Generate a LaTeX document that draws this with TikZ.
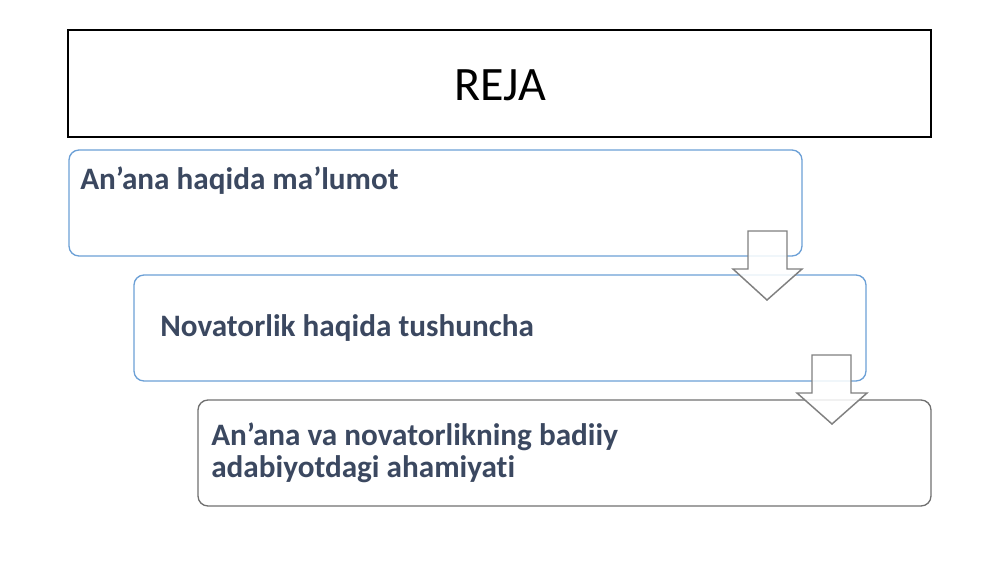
\documentclass[tikz,border=0pt]{standalone}
\usepackage{fontspec}
\setmainfont{Carlito}[Ligatures=NoCommon]
\usepackage{tikz}

\definecolor{planblue}{RGB}{108,160,214}
\definecolor{plangrey}{RGB}{112,112,112}
\definecolor{arrowgrey}{RGB}{128,128,128}
\definecolor{plantext}{RGB}{59,72,96}

\tikzset{
  planbox/.style={line width=1pt, rounded corners=7.5pt},
  downarrow/.style={draw=arrowgrey, line width=1.1pt, fill=white, fill opacity=0.85, line join=miter},
  plantitle/.style={anchor=base west, inner sep=0pt, text=plantext, font=\bfseries\fontsize{23.4}{28}\selectfont}
}

\begin{document}
\begin{tikzpicture}[x=0.75pt,y=0.75pt,yscale=-1,xscale=1]
\useasboundingbox (0,0) rectangle (1000,562);

%Shape: Rectangle [title]
\draw [line width=0.8pt]  (68,30) rectangle (931,137) ;
%Shape: Rounded Rectangle [first]
\draw [planbox, draw=planblue]  (69,150) rectangle (802,256) ;
%Shape: Rounded Rectangle [second]
\draw [planbox, draw=planblue]  (134,275) rectangle (866,381) ;
%Shape: Down Arrow [first]
\draw [downarrow]  (748,231) -- (787,231) -- (787,269) -- (802,269) -- (767,300) -- (733,269) -- (748,269) -- cycle ;
%Shape: Rounded Rectangle [third]
\draw [planbox, draw=plangrey]  (198,400) rectangle (931,506) ;
%Shape: Down Arrow [second]
\draw [downarrow]  (812,355) -- (851,355) -- (851,393) -- (867,393) -- (832,424) -- (797,393) -- (812,393) -- cycle ;

% Text Node
\draw (500,85) node (reja) [inner sep=0pt, font=\fontsize{36}{43}\selectfont] {REJA};
% Text Node
\draw (80,189) node (anana) [plantitle] {An’ana haqida ma’lumot};
% Text Node
\draw (160,336) node (novator) [plantitle] {Novatorlik haqida tushuncha};
% Text Node
\draw (211,445) node (ahamiyat) [plantitle] {An’ana va novatorlikning badiiy};
% Text Node
\draw (211,477) node (adabiyot) [plantitle] {adabiyotdagi ahamiyati};

\end{tikzpicture}
\end{document}
